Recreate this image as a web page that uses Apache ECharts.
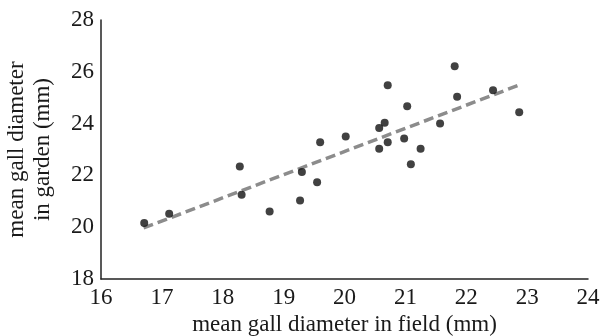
<!DOCTYPE html>
<html>
<head>
<meta charset="utf-8">
<script src="https://cdn.jsdelivr.net/npm/echarts@6/dist/echarts.min.js"></script>
<style>
  html, body { margin: 0; padding: 0; background: #fff; }
  #chart { width: 611px; height: 336px; }
</style>
</head>
<body>
<div id="chart"></div>
<script>
// field vs garden gall diameter (mm)
const fieldMm = [16.71, 17.12, 18.28, 18.31, 18.77, 19.27, 19.30, 19.55, 19.60, 20.02,
  20.71, 21.81, 21.03, 20.66, 20.57, 20.71, 20.57, 20.98, 21.25, 21.09,
  21.57, 21.85, 22.44, 22.87];
const gardenMm = [20.16, 20.52, 22.34, 21.25, 20.61, 21.03, 22.13, 21.74, 23.28, 23.50,
  25.48, 26.21, 24.67, 24.03, 23.83, 23.28, 23.03, 23.42, 23.03, 22.43,
  24.00, 25.04, 25.29, 24.44];
// fitted line ends
const trendX = [16.70, 22.87];
const trendY = [19.97, 25.49];

const font = '"Liberation Serif", "DejaVu Serif", serif';

const chart = echarts.init(document.getElementById('chart'));
chart.setOption({
  animation: false,
  grid: { left: 101, right: 23, top: 20, bottom: 57, outerBoundsMode: 'none', containLabel: false },
  xAxis: {
    type: 'value', min: 16, max: 24, interval: 1,
    name: 'mean gall diameter in field (mm)',
    nameLocation: 'middle', nameGap: 32,
    nameTextStyle: { fontFamily: font, fontSize: 23, color: '#1a1a1a' },
    axisLine: { show: true, lineStyle: { color: '#222', width: 1.5 } },
    axisTick: { show: false },
    splitLine: { show: false },
    axisLabel: { fontFamily: font, fontSize: 23, color: '#1a1a1a', margin: 7 }
  },
  yAxis: {
    type: 'value', min: 18, max: 28, interval: 2,
    name: 'mean gall diameter\nin garden (mm)',
    nameLocation: 'middle', nameGap: 45, nameRotate: 90,
    nameTextStyle: { fontFamily: font, fontSize: 23, color: '#1a1a1a', lineHeight: 26 },
    axisLine: { show: true, lineStyle: { color: '#222', width: 1.5 } },
    axisTick: { show: false },
    splitLine: { show: false },
    axisLabel: { fontFamily: font, fontSize: 23, color: '#1a1a1a', margin: 7 }
  },
  series: [
    {
      type: 'line',
      data: trendX.map((x, i) => [x, trendY[i]]),
      symbol: 'none',
      lineStyle: { color: '#8c8c8c', width: 3.5, type: [10, 5] },
      z: 1
    },
    {
      type: 'scatter',
      data: fieldMm.map((x, i) => [x, gardenMm[i]]),
      symbol: 'circle',
      symbolSize: 8,
      itemStyle: { color: '#111' },
      z: 2
    }
  ]
});
</script>
</body>
</html>
